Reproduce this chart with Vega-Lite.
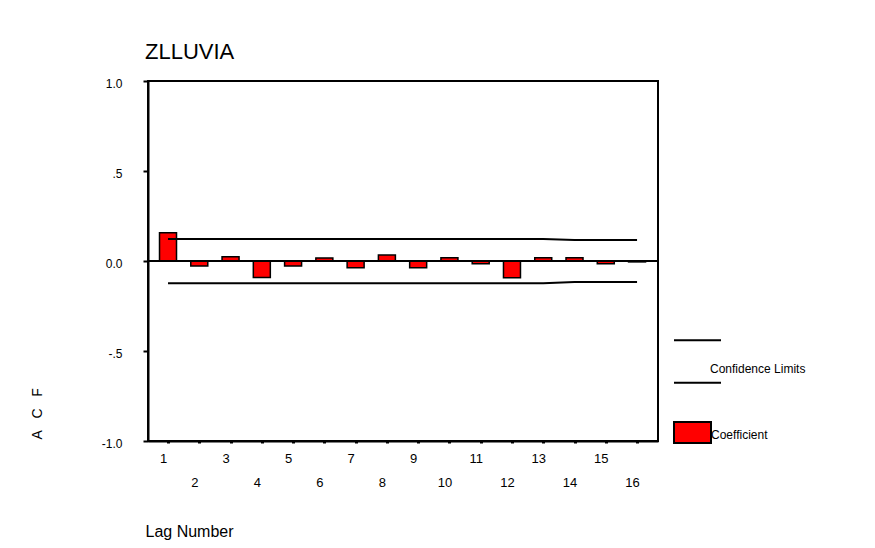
{
  "$schema": "https://vega.github.io/schema/vega-lite/v6.json",
  "width": 510,
  "height": 360,
  "autosize": "none",
  "padding": {"left": 148, "top": 81, "right": 217, "bottom": 107},
  "background": "white",
  "config": {
    "font": "Liberation Sans",
    "view": {"stroke": "black", "strokeWidth": 2},
    "axis": {"labelColor": "black", "titleColor": "black", "domainColor": "black", "tickColor": "black", "grid": false, "domainWidth": 2}
  },
  "title": {
    "text": "ZLLUVIA",
    "anchor": "start",
    "frame": "group",
    "fontSize": 22,
    "fontWeight": "normal",
    "baseline": "alphabetic",
    "offset": -4,
    "dx": -3,
    "color": "black"
  },
  "resolve": {"axis": {"x": "independent"}},
  "data": {
    "values": [
      {"lag": 1, "acf": 0.157, "upper": 0.122, "lower": -0.124},
      {"lag": 2, "acf": -0.028, "upper": 0.122, "lower": -0.124},
      {"lag": 3, "acf": 0.024, "upper": 0.122, "lower": -0.124},
      {"lag": 4, "acf": -0.091, "upper": 0.122, "lower": -0.124},
      {"lag": 5, "acf": -0.028, "upper": 0.122, "lower": -0.124},
      {"lag": 6, "acf": 0.017, "upper": 0.122, "lower": -0.124},
      {"lag": 7, "acf": -0.037, "upper": 0.122, "lower": -0.124},
      {"lag": 8, "acf": 0.033, "upper": 0.122, "lower": -0.124},
      {"lag": 9, "acf": -0.037, "upper": 0.122, "lower": -0.124},
      {"lag": 10, "acf": 0.018, "upper": 0.122, "lower": -0.124},
      {"lag": 11, "acf": -0.015, "upper": 0.122, "lower": -0.124},
      {"lag": 12, "acf": -0.093, "upper": 0.122, "lower": -0.124},
      {"lag": 13, "acf": 0.018, "upper": 0.122, "lower": -0.124},
      {"lag": 14, "acf": 0.018, "upper": 0.116, "lower": -0.117},
      {"lag": 15, "acf": -0.015, "upper": 0.116, "lower": -0.117},
      {"lag": 16, "acf": -0.005, "upper": 0.116, "lower": -0.117}
    ]
  },
  "layer": [
    {
      "mark": {"type": "bar", "size": 17, "stroke": "black", "strokeWidth": 1.5},
      "encoding": {
        "x": {
          "field": "lag", "type": "quantitative",
          "scale": {"domain": [0.36, 16.67], "nice": false, "zero": false, "padding": 0},
          "axis": {
            "orient": "bottom",
            "values": [1,2,3,4,5,6,7,8,9,10,11,12,13,14,15,16],
            "labelExpr": "datum.value % 2 === 1 ? datum.label : ''",
            "title": "Lag Number",
            "titleFontSize": 16,
            "titleFontWeight": "normal",
            "titleAnchor": "start",
            "titleAlign": "left",
            "titleBaseline": "alphabetic",
            "titleX": -3,
            "titleY": 95,
            "labelFontSize": 13,
            "labelOffset": -5,
            "labelPadding": 9,
            "labelOverlap": false,
            "labelFlush": false,
            "tickSize": 2,
            "tickWidth": 3
          }
        },
        "y": {
          "field": "acf", "type": "quantitative",
          "scale": {"domain": [-1, 1], "nice": false},
          "axis": {
            "values": [-1, -0.5, 0, 0.5, 1],
            "labelExpr": "datum.value === 1 ? '1.0' : datum.value === 0.5 ? '.5' : datum.value === 0 ? '0.0' : datum.value === -0.5 ? '-.5' : '-1.0'",
            "labelFontSize": 12,
            "labelPadding": 21,
            "labelOffset": 2,
            "tickSize": 5,
            "tickWidth": 2,
            "title": "A\u00a0\u00a0\u00a0C\u00a0\u00a0\u00a0F",
            "titleFontSize": 14,
            "titleFontWeight": "normal",
            "titleAngle": -90,
            "titleAlign": "left",
            "titleBaseline": "middle",
            "titleX": -111,
            "titleY": 358
          }
        },
        "fill": {
          "datum": "Coefficient",
          "type": "nominal",
          "scale": {"range": ["#ff0000"]},
          "legend": {
            "orient": "none",
            "legendX": 525,
            "legendY": 332,
            "title": null,
            "padding": 0,
            "symbolType": "M -1 -0.5676 L 1 -0.5676 L 1 0.5676 L -1 0.5676 Z",
            "symbolSize": 1369,
            "symbolStrokeColor": "black",
            "symbolStrokeWidth": 2,
            "symbolFillColor": "#ff0000",
            "labelFontSize": 12,
            "labelColor": "black",
            "labelOffset": -1,
            "encode": {"labels": {"update": {"dy": {"value": 2}}}}
          }
        }
      }
    },
    {
      "mark": {"type": "line", "strokeWidth": 2},
      "encoding": {
        "x": {"field": "lag", "type": "quantitative", "axis": null},
        "y": {"field": "upper", "type": "quantitative"},
        "stroke": {
          "datum": "Confidence Limits",
          "type": "nominal",
          "scale": {"range": ["black"]},
          "legend": {
            "orient": "none",
            "legendX": 525,
            "legendY": 256,
            "title": null,
            "padding": 0,
            "symbolType": "M -1 -0.9 L 1 -0.9 M -1 0.9 L 1 0.9",
            "symbolSize": 2209,
            "symbolStrokeWidth": 2,
            "labelFontSize": 12,
            "labelColor": "black",
            "labelOffset": -12,
            "encode": {"labels": {"update": {"dy": {"value": 7}}}}
          }
        }
      }
    },
    {
      "mark": {"type": "line", "strokeWidth": 2},
      "encoding": {
        "x": {
          "field": "lag", "type": "quantitative",
          "axis": {
            "orient": "bottom",
            "values": [2,4,6,8,10,12,14,16],
            "title": null,
            "domain": false,
            "ticks": false,
            "labelFontSize": 13,
            "labelOffset": -5,
            "labelPadding": 35,
            "labelOverlap": false,
            "labelFlush": false
          }
        },
        "y": {"field": "lower", "type": "quantitative"},
        "stroke": {"datum": "Confidence Limits", "type": "nominal"}
      }
    },
    {
      "mark": {"type": "rule", "color": "black", "strokeWidth": 2},
      "encoding": {"y": {"datum": 0, "type": "quantitative"}}
    }
  ]
}
